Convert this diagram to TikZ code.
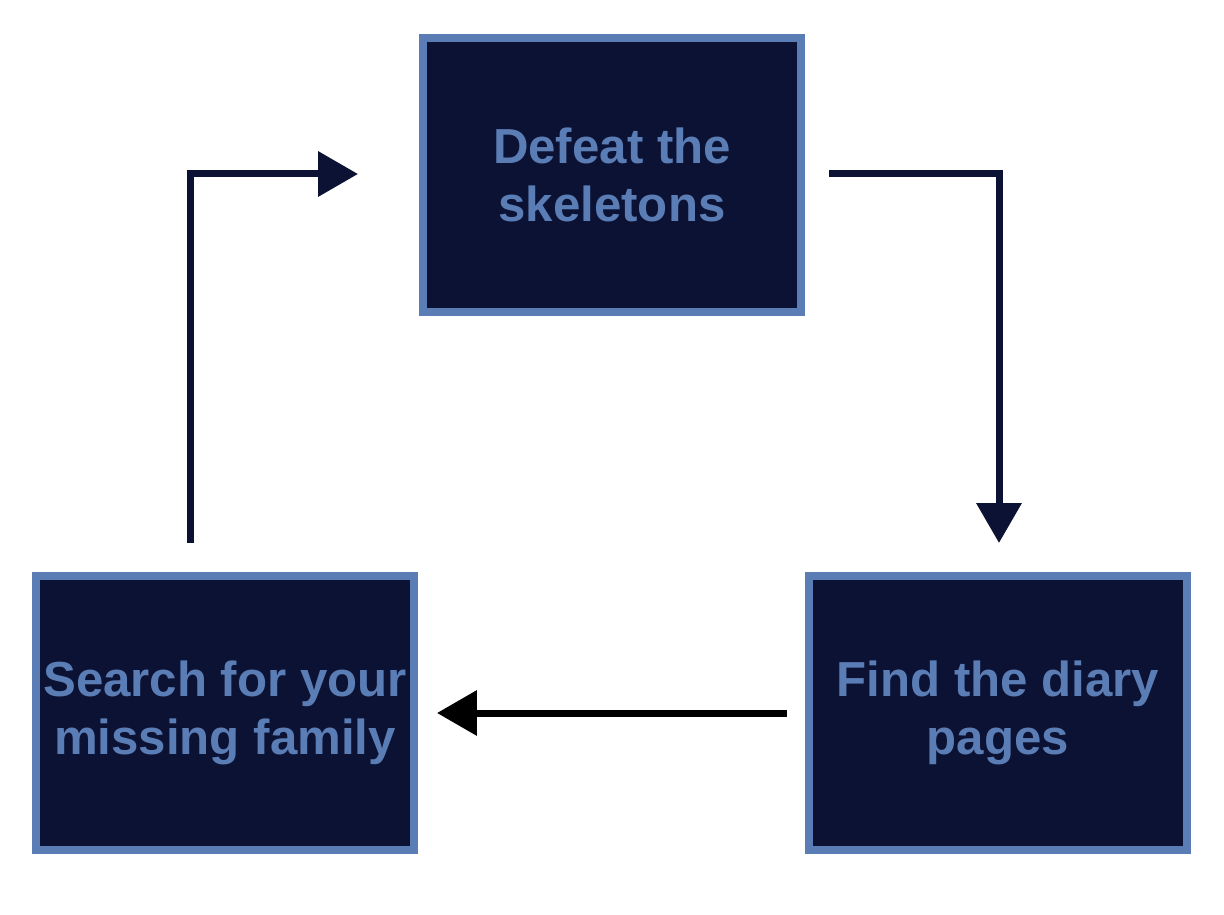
\documentclass[tikz,border=0pt]{standalone}
\usepackage{fontspec}
\setmainfont{Liberation Sans}
\usetikzlibrary{arrows.meta}
\definecolor{boxfill}{HTML}{0C1233}
\definecolor{boxline}{HTML}{5B7DB5}
\begin{document}
\begin{tikzpicture} [
            x=0.02cm, y=-0.02cm,
            every node/.style = {draw=boxline, fill=boxfill, line width=0.15cm,
                minimum width=7.56cm, minimum height=5.48cm, align=center,
                text=boxline, font=\fontsize{28}{33}\selectfont\bfseries},
            flow/.style = {line width=0.14cm, draw=boxfill,
                -{Triangle[length=0.8cm, width=0.88cm]}},
        ]
            \useasboundingbox (0,0) rectangle (1224,915);

            \node (D) at (612, 175) {Defeat the\\skeletons};
            \node (F) at (998, 713) {Find the diary\\pages};
            \node (S) at (225, 713) {Search for your\\missing family};

            % free ends of the connectors
            \coordinate (d1) at (829, 174);
            \coordinate (d2) at (999, 543);
            \coordinate (f1) at (787, 713);
            \coordinate (f2) at (437, 713);
            \coordinate (s1) at (190, 543);
            \coordinate (s2) at (358, 174);

            \draw[flow] (d1) -| (d2);
            \draw[flow, draw=black, fill=black] (f1) -- (f2);
            \draw[flow] (s1) |- (s2);
        \end{tikzpicture}
\end{document}
